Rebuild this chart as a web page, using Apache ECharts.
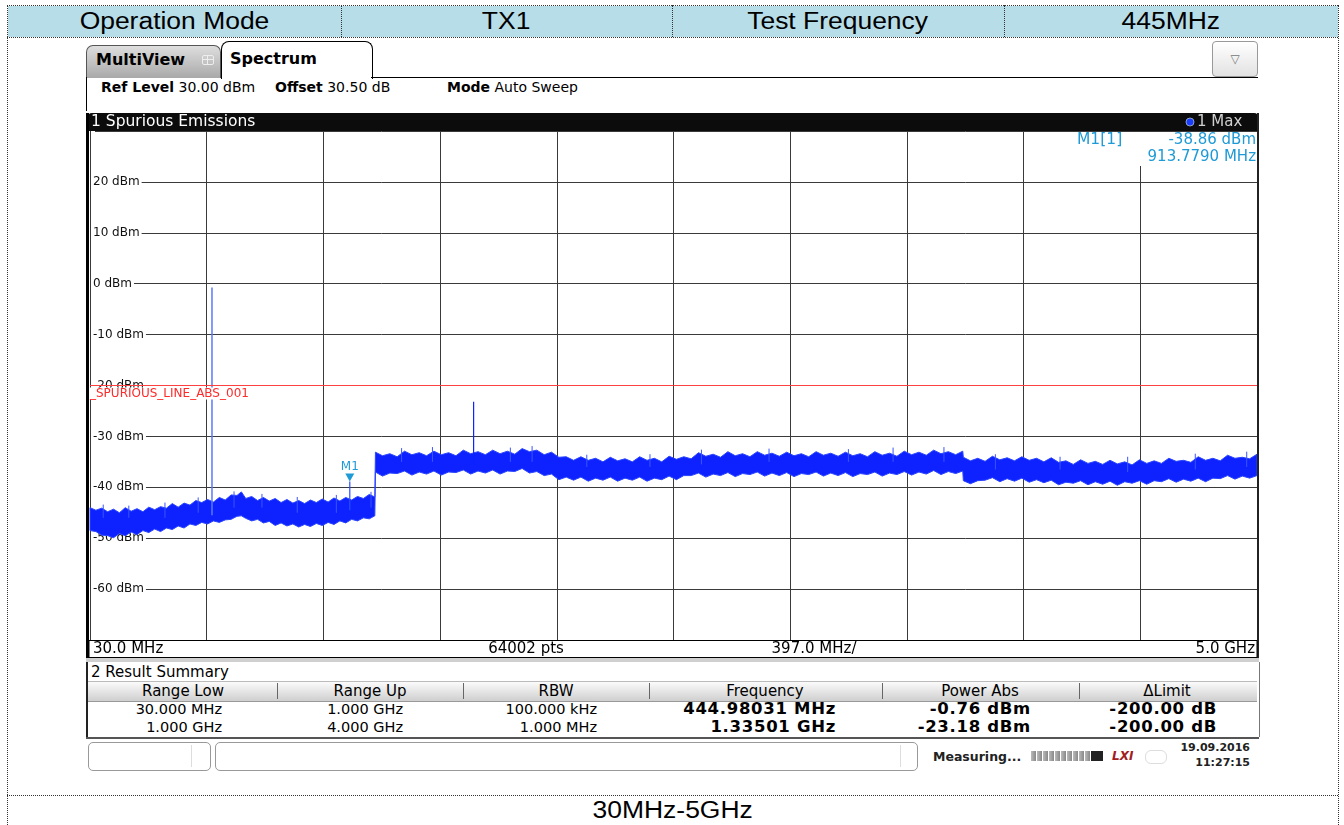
<!DOCTYPE html>
<html><head><meta charset="utf-8">
<script src="https://cdn.jsdelivr.net/npm/echarts@6/dist/echarts.min.js"></script>
<style>
body{margin:0;width:1344px;height:825px;background:#fff;position:relative;overflow:hidden;font-family:'DejaVu Sans',sans-serif;color:#000;}
.a{position:absolute;}
.t{position:absolute;white-space:nowrap;}
.dh{position:absolute;height:0;border-top:1px dotted #333;}
.dv{position:absolute;width:0;border-left:1px dotted #333;}
.hc{position:absolute;top:6px;height:31px;line-height:31px;text-align:center;font-family:'Liberation Sans',Arial,sans-serif;font-size:23px;}
.hc span{display:inline-block;transform:scaleX(1.15);}
.sep{position:absolute;top:683px;width:1px;height:16px;background:#666;}
</style></head><body>
<script>
// ---------------- data ----------------
const headerCells = ['Operation Mode', 'TX1', 'Test Frequency', '445MHz'];
const footerText = '30MHz-5GHz';

const yLabelValues = [20, 10, 0, -10, -20, -30, -40, -50, -60];
const xStartMHz = 30, xStopMHz = 4000, xDivMHz = 397;
const yMin = -70, yMax = 30, yDiv = 10;
const limitLevel = -20;
const limitName = '_SPURIOUS_LINE_ABS_001';

// noise band of the Max trace: upper / lower envelope (dBm)
const traceFreq = [
 30,50,70,90,110,130,150,170,190,210,230,250,270,290,310,330,350,370,390,410,430,450,470,490,510,530,545,560,580,600,620,640,660,680,700,720,740,760,780,800,820,840,860,880,900,920,940,960,980,999,
 1001,1025,1050,1075,1100,1125,1150,1175,1200,1225,1250,1275,1300,1325,1350,1375,1400,1425,1450,1475,1500,1525,1550,1575,1600,1625,1650,1675,1700,1725,1750,1775,1800,1825,1850,1875,1900,1925,1950,1975,
 2000,2025,2050,2075,2100,2125,2150,2175,2200,2225,2250,2275,2300,2325,2350,2375,2400,2425,2450,2475,2500,2525,2550,2575,2600,2625,2650,2675,2700,2725,2750,2775,2800,2825,2850,2875,2900,2925,2950,2975,2999,
 3001,3025,3050,3075,3100,3125,3150,3175,3200,3225,3250,3275,3300,3325,3350,3375,3400,3425,3450,3475,3500,3525,3550,3575,3600,3625,3650,3675,3700,3725,3750,3775,3800,3825,3850,3875,3900,3925,3950,3975,4000];
const traceUpper = [
 -44.0,-44.5,-44.1,-44.8,-44.3,-45.0,-44.0,-44.7,-44.2,-44.8,-43.9,-44.4,-43.8,-44.1,-43.2,-43.9,-43.1,-43.5,-42.6,-43.0,-42.4,-42.9,-42.0,-42.5,-41.5,-41.6,-40.9,-42.2,-41.8,-42.6,-42.0,-42.7,-42.2,-43.0,-42.4,-43.1,-42.6,-43.2,-42.5,-43.0,-42.3,-42.9,-42.1,-42.7,-42.0,-42.5,-41.8,-42.2,-41.4,-41.9,
 -33.1,-33.8,-33.4,-34.0,-32.9,-33.6,-33.2,-33.8,-32.9,-33.6,-33.2,-33.8,-32.7,-33.4,-33.0,-33.6,-32.7,-33.4,-32.9,-33.5,-32.4,-33.0,-32.7,-33.6,-33.1,-34.1,-34.0,-34.7,-34.0,-34.7,-34.3,-35.0,-34.1,-34.8,-34.4,-35.0,-34.0,-34.7,-34.3,-35.0,
 -33.9,-34.5,-34.0,-34.4,-33.2,-33.9,-33.5,-34.1,-33.0,-33.8,-33.4,-34.0,-33.0,-33.7,-33.3,-33.9,-33.1,-33.8,-33.4,-34.0,-33.0,-33.7,-33.3,-33.9,-33.1,-33.8,-33.4,-34.0,-33.0,-33.7,-33.3,-33.9,-32.9,-33.6,-33.1,-33.7,-32.7,-33.4,-33.0,-33.6,-32.9,
 -34.1,-34.8,-34.3,-34.9,-33.9,-34.6,-34.2,-34.8,-34.0,-34.7,-34.3,-35.0,-34.2,-35.1,-34.8,-35.5,-34.6,-35.3,-34.9,-35.5,-34.7,-35.4,-35.0,-35.6,-34.6,-35.3,-34.8,-35.3,-34.3,-34.9,-34.7,-35.1,-34.0,-34.7,-34.3,-34.8,-33.7,-34.3,-34.1,-34.4,-33.5];
const traceLower = [
 -48.5,-48.7,-49.4,-49.5,-49.9,-49.1,-49.5,-48.8,-49.3,-48.5,-48.9,-48.2,-48.7,-48.0,-48.3,-47.6,-48.0,-47.2,-47.5,-46.9,-47.2,-46.6,-46.9,-46.4,-46.3,-45.7,-45.6,-46.1,-46.6,-46.3,-47.0,-46.7,-47.5,-47.0,-47.6,-47.2,-47.8,-47.3,-47.7,-47.1,-47.5,-46.9,-47.3,-46.6,-47.0,-46.3,-46.6,-46.0,-46.2,-45.6,
 -37.0,-37.8,-37.2,-37.3,-36.8,-37.6,-37.0,-37.4,-36.8,-37.6,-37.0,-37.1,-36.6,-37.4,-36.8,-37.2,-36.6,-37.4,-36.8,-36.9,-36.3,-37.2,-36.9,-37.7,-37.4,-38.5,-38.0,-38.6,-38.0,-38.8,-38.2,-38.6,-38.0,-38.8,-38.2,-38.6,-38.0,-38.8,-38.2,-38.5,
 -37.8,-38.5,-37.7,-37.7,-37.2,-38.0,-37.4,-37.7,-37.1,-37.9,-37.3,-37.5,-37.0,-37.8,-37.2,-37.7,-37.1,-37.9,-37.3,-37.5,-37.0,-37.8,-37.2,-37.7,-37.1,-37.9,-37.3,-37.5,-37.0,-37.8,-37.2,-37.5,-36.9,-37.6,-37.0,-37.4,-36.7,-37.5,-36.9,-37.3,-36.8,
 -38.7,-39.3,-38.7,-38.6,-38.1,-38.9,-38.3,-38.8,-38.2,-39.0,-38.5,-39.1,-38.6,-39.5,-39.0,-39.2,-38.7,-39.5,-38.9,-39.4,-38.8,-39.6,-38.9,-39.2,-38.7,-39.4,-38.7,-38.9,-38.3,-39.0,-38.4,-38.8,-38.2,-38.9,-38.2,-38.3,-37.7,-38.4,-37.8,-38.2,-37.7];

// single noise peaks sticking out of the band
const noiseFreq = [75,162,285,398,520,615,735,868,986,1090,1195,1460,1534,1720,1935,2110,2340,2610,2762,2935,3110,3330,3560,3790,3965];
const noiseTop  = [-43.4,-43.6,-43.0,-42.0,-40.8,-41.3,-41.9,-41.5,-40.9,-32.3,-32.1,-32.2,-31.9,-33.6,-33.5,-32.6,-32.4,-32.5,-32.2,-32.1,-33.5,-34.0,-34.0,-33.4,-33.0];
const noiseBase = [-46,-46,-46,-45,-44,-44,-45,-45,-44,-35,-35,-35,-35,-36,-36,-35.5,-35,-35,-35,-35,-36.5,-36.5,-37,-36.5,-36];

// discrete emissions
const emisFreq  = [444.98031, 1335.01, 913.779];
const emisLevel = [-0.76, -23.18, -38.86];
const emisBase  = [-45.5, -35.5, -44.5];

const marker = { name: 'M1', freq: 913.779, level: -38.86 };
const markerInfo = ['M1[1]', '-38.86 dBm', '913.7790 MHz'];

const summaryHead = ['Range Low', 'Range Up', 'RBW', 'Frequency', 'Power Abs', '\u0394Limit'];
const summaryRow1 = ['30.000 MHz', '1.000 GHz', '100.000 kHz', '444.98031 MHz', '-0.76 dBm', '-200.00 dB'];
const summaryRow2 = ['1.000 GHz', '4.000 GHz', '1.000 MHz', '1.33501 GHz', '-23.18 dBm', '-200.00 dB'];
</script>

<!-- outer document table -->
<div class="a" style="left:8px;top:6px;width:1330px;height:31px;background:#b7dde8"></div>
<div class="dh" style="left:7px;top:5px;width:1331px"></div>
<div class="dh" style="left:7px;top:37px;width:1331px"></div>
<div class="dh" style="left:7px;top:795px;width:1331px"></div>
<div class="dv" style="left:7px;top:5px;height:820px"></div>
<div class="dv" style="left:1338px;top:5px;height:820px"></div>
<div class="dv" style="left:341px;top:5px;height:32px"></div>
<div class="dv" style="left:672px;top:5px;height:32px"></div>
<div class="dv" style="left:1004px;top:5px;height:32px"></div>
<div id="hdr"></div>
<div class="hc" id="ftr" style="left:7px;width:1331px;top:796px;height:29px;line-height:29px"></div>

<!-- instrument chrome -->
<div class="a" style="left:86px;top:45px;width:133px;height:32px;background:linear-gradient(#dedede,#a9a9a9);border:1px solid #555;border-bottom:none;border-radius:7px 7px 0 0"></div>
<div class="t" style="left:96px;top:50px;line-height:20px;font-weight:bold;font-size:16px">MultiView</div>
<div class="a" style="left:202px;top:55px;width:10px;height:8px;border:1px solid #eee;border-radius:2px"></div>
<div class="a" style="left:207px;top:55px;width:1px;height:10px;background:#eee"></div>
<div class="a" style="left:202px;top:59px;width:12px;height:1px;background:#eee"></div>
<div class="a" style="left:221px;top:41px;width:150px;height:37px;background:#fff;border:1px solid #000;border-bottom:none;border-radius:8px 8px 0 0"></div>
<div class="t" style="left:230px;top:49px;line-height:20px;font-weight:bold;font-size:16px">Spectrum</div>
<div class="a" style="left:371px;top:77px;width:887px;height:1px;background:#000"></div>
<div class="a" style="left:86px;top:77px;width:1px;height:36px;background:#000"></div>
<div class="a" style="left:1212px;top:41px;width:44px;height:34px;border:1px solid #999;border-radius:4px;background:linear-gradient(#fff,#e2e2e2);text-align:center;line-height:34px;color:#777;font-size:12px">&#9661;</div>
<div class="t" style="left:101px;top:79px;line-height:16px;font-size:14px"><b>Ref Level</b> 30.00 dBm</div>
<div class="t" style="left:275px;top:79px;line-height:16px;font-size:14px"><b>Offset</b> 30.50 dB</div>
<div class="t" style="left:447px;top:79px;line-height:16px;font-size:14px"><b>Mode</b> Auto Sweep</div>

<div id="chart" class="a" style="left:86px;top:111px;width:1174px;height:548px"></div>

<div class="a" style="left:86px;top:658px;width:1173px;height:4px;background:#cfcfcf"></div>
<!-- result summary -->
<div class="a" style="left:86px;top:662px;width:1171px;height:75px;background:#fff;border-left:2px solid #222;border-right:1px solid #777"></div>
<div class="t" style="left:91px;top:664px;line-height:17px;font-size:15px">2 Result Summary</div>
<div class="a" style="left:88px;top:681px;width:1169px;height:19px;background:linear-gradient(#fbfbfb,#cfcfcf);border-top:1px solid #bbb;border-bottom:1px solid #999"></div>
<div class="sep" style="left:277px"></div><div class="sep" style="left:463px"></div><div class="sep" style="left:649px"></div><div class="sep" style="left:882px"></div><div class="sep" style="left:1079px"></div>
<div id="sum"></div>
<div class="a" style="left:86px;top:737px;width:1173px;height:2px;background:#555"></div>
<!-- status bar -->
<div class="a" style="left:88px;top:742px;width:121px;height:27px;border:1px solid #999;border-radius:5px;background:#fff"></div>
<div class="a" style="left:191px;top:745px;width:1px;height:22px;background:#ddd"></div>
<div class="a" style="left:215px;top:742px;width:701px;height:27px;border:1px solid #999;border-radius:5px;background:#fff"></div>
<div class="a" style="left:900px;top:745px;width:1px;height:22px;background:#ddd"></div>
<div class="t" style="left:933px;top:749px;line-height:15px;font-size:12.5px;font-weight:bold;color:#222">Measuring...</div>
<div class="a" style="left:1031px;top:751px;width:60px;height:10px;background:repeating-linear-gradient(90deg,#bbb 0,#888 5px,#fff 5px,#fff 6px)"></div>
<div class="a" style="left:1091px;top:751px;width:12px;height:10px;background:#222"></div>
<div class="t" style="left:1112px;top:749px;line-height:14px;font-size:12px;font-weight:bold;font-style:italic;color:#a02020">LXI</div>
<div class="a" style="left:1145px;top:750px;width:20px;height:12px;border:1px solid #ddd;border-radius:6px"></div>
<div class="t" style="right:94px;top:741px;line-height:14px;font-size:11px;font-weight:bold;color:#222">19.09.2016</div>
<div class="t" style="right:94px;top:756px;line-height:14px;font-size:11px;font-weight:bold;color:#222">11:27:15</div>

<script>
(function(){
  const cells = [[8,333],[341,331],[672,332],[1004,334]];
  let h = '';
  headerCells.forEach((txt,i)=>{ h += '<div class="hc" style="left:'+cells[i][0]+'px;width:'+cells[i][1]+'px"><span>'+txt+'</span></div>'; });
  document.getElementById('hdr').innerHTML = h;
  document.getElementById('ftr').innerHTML = '<span>'+footerText+'</span>';
  const colCenters = [183, 370, 556, 765, 980, 1167];
  const colRight = [222, 403, 597, 836, 1031, 1217];
  let s = '';
  summaryHead.forEach((txt,i)=>{ s += '<div class="t" style="left:'+(colCenters[i]-100)+'px;width:200px;text-align:center;top:682px;line-height:18px;font-size:15px">'+txt+'</div>'; });
  [summaryRow1, summaryRow2].forEach((row,r)=>{
    const top = r===0 ? 700 : 718;
    row.forEach((txt,i)=>{
      const bold = i>=3;
      s += '<div class="t" style="right:'+(1344-colRight[i])+'px;top:'+top+'px;line-height:18px;'+(bold?'font-weight:bold;font-size:16.5px;letter-spacing:0.7px':'font-size:14.5px')+'">'+txt+'</div>';
    });
  });
  document.getElementById('sum').innerHTML = s;
})();

const chart = echarts.init(document.getElementById('chart'), null, {renderer:'canvas'});
const FONT = '"DejaVu Sans", sans-serif';
const BLUE = '#0d22ff';
const MCOL = '#1e9ad6';

const option = {
  animation: false,
  backgroundColor: '#fff',
  grid: { left: 4, top: 20, width: 1167, height: 509 },
  xAxis: {
    type: 'value', min: xStartMHz, max: xStopMHz, interval: xDivMHz,
    axisLine: {show:false}, axisTick: {show:false}, axisLabel: {show:false},
    splitLine: { show: true, lineStyle: { color: '#3a3a3a', width: 1 } }
  },
  yAxis: {
    type: 'value', min: yMin, max: yMax, interval: yDiv,
    axisLine: {show:false}, axisTick: {show:false},
    splitLine: { show: true, lineStyle: { color: '#3a3a3a', width: 1 } },
    axisLabel: {
      inside: true, margin: 1, color: '#111', fontSize: 12, fontFamily: FONT,
      backgroundColor: '#fff', padding: [1, 2, 1, 2],
      formatter: v => yLabelValues.indexOf(v) >= 0 ? v + ' dBm' : ''
    }
  },
  series: [
    {
      type: 'custom', name: 'band', silent: true, z: 3,
      data: [[traceFreq[0], traceUpper[0]]],
      encode: { x: 0, y: 1 },
      renderItem: (params, api) => {
        const pts = [];
        for (let i = 0; i < traceFreq.length; i++) pts.push(api.coord([traceFreq[i], traceUpper[i]]));
        for (let i = traceFreq.length - 1; i >= 0; i--) pts.push(api.coord([traceFreq[i], traceLower[i]]));
        return { type: 'polygon', shape: { points: pts }, style: { fill: BLUE, stroke: '#2a44ff', lineWidth: 1 } };
      }
    },
    {
      type: 'custom', name: 'noise', silent: true, z: 3,
      data: noiseFreq.map((f, i) => [f, noiseTop[i], noiseBase[i]]),
      encode: { x: 0, y: [1, 2] },
      renderItem: (params, api) => {
        const a = api.coord([api.value(0), api.value(1)]);
        const b = api.coord([api.value(0), api.value(2)]);
        return { type: 'line', shape: { x1: a[0], y1: a[1], x2: b[0], y2: b[1] }, style: { stroke: '#3a55ff', lineWidth: 1 } };
      }
    },
    {
      type: 'custom', name: 'emissions', silent: true, z: 4,
      data: emisFreq.map((f, i) => [f, emisLevel[i], emisBase[i]]),
      encode: { x: 0, y: [1, 2] },
      renderItem: (params, api) => {
        const a = api.coord([api.value(0), api.value(1)]);
        const b = api.coord([api.value(0), api.value(2)]);
        const col = params.dataIndex === 0 ? '#5a78ff' : (params.dataIndex === 1 ? BLUE : '#2a4cff');
        return { type: 'line', shape: { x1: a[0], y1: a[1], x2: b[0], y2: b[1] }, style: { stroke: col, lineWidth: params.dataIndex === 0 ? 1.5 : 1.2 } };
      },
      markLine: {
        silent: true, symbol: ['none', 'none'], animation: false,
        lineStyle: { color: '#ff4040', width: 1, type: 'solid' },
        label: { show: true, position: 'insideStartBottom', formatter: limitName, color: '#ff2a2a', fontSize: 12, fontFamily: FONT, backgroundColor: '#fff', padding: [0, 0, 0, 0], distance: [0, 2] },
        emphasis: { disabled: true },
        data: [{ yAxis: limitLevel }]
      },
      markPoint: {
        silent: true, animation: false,
        data: [{
          coord: [marker.freq, marker.level], symbol: 'triangle', symbolRotate: 180,
          symbolSize: [9, 8], symbolOffset: [0, -4], itemStyle: { color: MCOL },
          label: { show: true, position: 'top', distance: 1, formatter: marker.name, color: MCOL, fontSize: 12, fontFamily: FONT }
        }]
      }
    }
  ],
  graphic: [
    { type: 'rect', z: 10, shape: { x: 1, y: 2, width: 1172, height: 18, r: [5, 5, 0, 0] }, style: { fill: '#0c0c0c' } },
    { type: 'text', z: 11, style: { text: '1 Spurious Emissions', x: 5, y: 11, verticalAlign: 'middle', fill: '#fff', font: '15.5px ' + FONT } },
    { type: 'circle', z: 11, shape: { cx: 1104, cy: 11, r: 4 }, style: { fill: '#1a3cff', stroke: '#8aa0c8', lineWidth: 1 } },
    { type: 'text', z: 11, style: { text: '1 Max', x: 1111, y: 11, verticalAlign: 'middle', fill: '#cfcfcf', font: '15px ' + FONT } },
    { type: 'rect', z: 10, shape: { x: 984, y: 21, width: 186, height: 34 }, style: { fill: '#fff' } },
    { type: 'text', z: 11, style: { text: markerInfo[0], x: 991, y: 29, verticalAlign: 'middle', fill: MCOL, font: '15.5px ' + FONT } },
    { type: 'text', z: 11, style: { text: markerInfo[1], x: 1170, y: 29, align: 'right', verticalAlign: 'middle', fill: MCOL, font: '15px ' + FONT } },
    { type: 'text', z: 11, style: { text: markerInfo[2], x: 1170, y: 46, align: 'right', verticalAlign: 'middle', fill: MCOL, font: '15px ' + FONT } },
    { type: 'rect', z: 10, shape: { x: 0, y: 2, width: 3, height: 546 }, style: { fill: '#000' } },
    { type: 'rect', z: 10, shape: { x: 1171, y: 2, width: 2, height: 546 }, style: { fill: '#222' } },
    { type: 'rect', z: 10, shape: { x: 3, y: 529.5, width: 1168, height: 17 }, style: { fill: '#fff', stroke: '#000', lineWidth: 1 } },
    { type: 'text', z: 11, style: { text: '30.0 MHz', x: 7, y: 538.5, verticalAlign: 'middle', fill: '#000', font: '15px ' + FONT } },
    { type: 'text', z: 11, style: { text: '64002 pts', x: 440, y: 538.5, align: 'center', verticalAlign: 'middle', fill: '#000', font: '15px ' + FONT } },
    { type: 'text', z: 11, style: { text: '397.0 MHz/', x: 728, y: 538.5, align: 'center', verticalAlign: 'middle', fill: '#000', font: '15px ' + FONT } },
    { type: 'text', z: 11, style: { text: '5.0 GHz', x: 1169, y: 538.5, align: 'right', verticalAlign: 'middle', fill: '#000', font: '15px ' + FONT } }
  ]
};
chart.setOption(option);
</script>
</body></html>
